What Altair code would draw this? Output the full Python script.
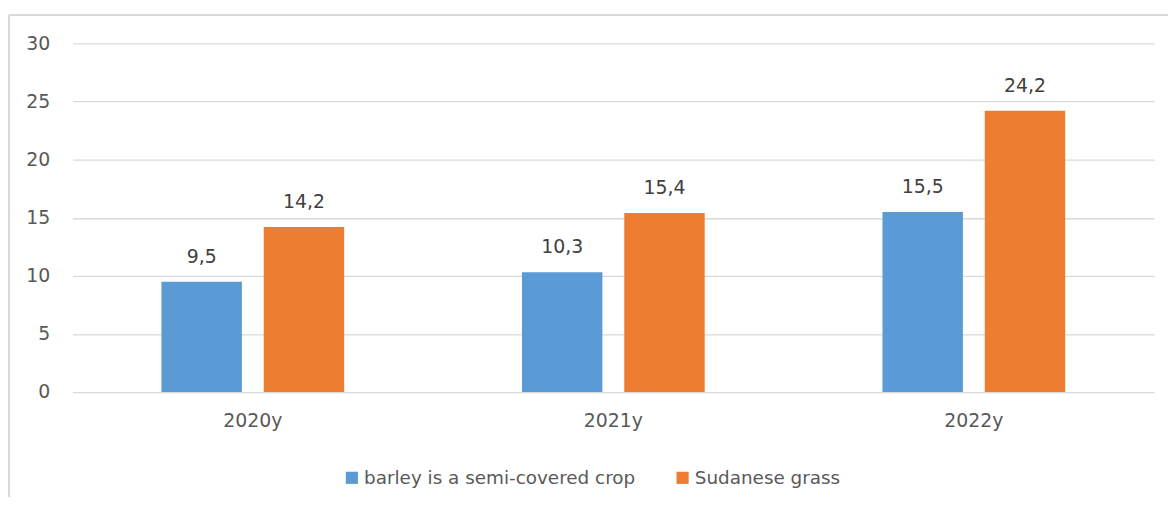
import altair as alt
import pandas as pd

years = ["2020y", "2021y", "2022y"]
series = ["barley is a semi-covered crop", "Sudanese grass"]
barley = [9.5, 10.3, 15.5]
sudanese = [14.2, 15.4, 24.2]
colors = ["#5B9BD5", "#ED7D31"]
y_ticks = [0, 5, 10, 15, 20, 25, 30]

rows = []
for i, y in enumerate(years):
    for s, vals in zip(series, [barley, sudanese]):
        v = vals[i]
        rows.append({"year": y, "series": s, "value": v,
                     "label": f"{v:.1f}".replace(".", ",")})
df = pd.DataFrame(rows)

FONT = "DejaVu Sans"
FS = 19
W, H = 1089, 351

x = alt.X("year:N", sort=years, title=None,
          scale=alt.Scale(paddingInner=0, paddingOuter=0),
          axis=alt.Axis(domain=False, ticks=False, tickSize=0, labelAngle=0, grid=False,
                        labelFont=FONT, labelFontSize=FS, labelColor="#595959",
                        labelBaseline="alphabetic", labelPadding=35))
xo = alt.XOffset("series:N", sort=series,
                 scale=alt.Scale(paddingInner=0.2136, paddingOuter=0.869))
y = alt.Y("value:Q", title=None,
          scale=alt.Scale(domain=[0, 30], nice=False),
          axis=alt.Axis(values=y_ticks, domain=False, ticks=False, tickSize=0,
                        grid=True, gridColor="#D9D9D9", gridWidth=1.3,
                        labelFont=FONT, labelFontSize=FS, labelColor="#595959",
                        labelPadding=23))

color = alt.Color("series:N", sort=series, title=None,
                  scale=alt.Scale(domain=series, range=colors),
                  legend=alt.Legend(orient="none", direction="horizontal",
                                    legendX=272, legendY=77 + H,
                                    symbolType="square", symbolSize=150,
                                    symbolStrokeWidth=0, symbolOpacity=1,
                                    labelFont=FONT, labelFontSize=18.5,
                                    labelColor="#595959", labelLimit=500,
                                    labelOffset=3, columnPadding=38, padding=0))

bars = alt.Chart(df).mark_bar().encode(x=x, xOffset=xo, y=y, color=color)

labels = alt.Chart(df).mark_text(
    font=FONT, fontSize=FS, color="#404040", baseline="alphabetic", dy=-19
).encode(x=alt.X("year:N", sort=years), xOffset=xo, y="value:Q", text="label:N")

border_top = alt.Chart(df).mark_rule(color="#D9D9D9", strokeWidth=1.5, clip=False).encode(
    x=alt.value(-64), x2=alt.value(1103), y=alt.value(-28.5))
border_left = alt.Chart(df).mark_rule(color="#D9D9D9", strokeWidth=1.5, clip=False).encode(
    x=alt.value(-64), y=alt.value(-28.5), y2=alt.value(H + 130))

chart = alt.layer(border_top, border_left, bars, labels).properties(
    width=W, height=H,
    background="white",
    autosize=alt.AutoSizeParams(type="none"),
    padding={"left": 65, "top": 34, "right": 14, "bottom": 104},
).configure_view(strokeWidth=0, stroke="transparent")

chart.save("out.html", embed_options={"renderer": "svg", "actions": False})
